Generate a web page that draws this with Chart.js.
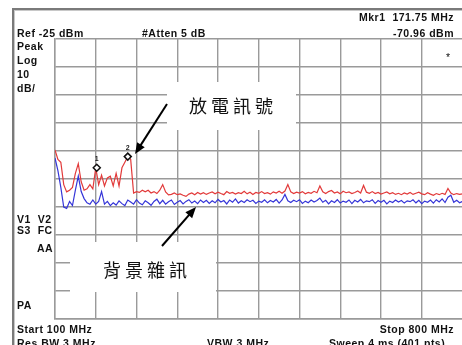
<!DOCTYPE html>
<html>
<head>
<meta charset="utf-8">
<script src="https://cdn.jsdelivr.net/npm/chart.js@4/dist/chart.umd.min.js"></script>
<style>
    html, body { margin: 0; padding: 0; background: #fff; }
    .wrap { position: relative; width: 462px; height: 345px; overflow: hidden; }
    #spec { position: absolute; left: 0; top: 0; }
    .frame {
        position: absolute; left: 12px; top: 8px; width: 460px; height: 350px;
        border-left: 2px solid #7a7a7a; border-top: 2px solid #7a7a7a;
        box-shadow: inset 1px 1px 0 #c8c8c8;
    }
    .lbl {
        position: absolute; font-family: "Liberation Sans", Arial, sans-serif;
        font-weight: bold; font-size: 10.5px; line-height: 10px; color: #111;
        letter-spacing: 0.5px; white-space: nowrap;
    }
    .r { text-align: right; }
    .cjk {
        position: absolute; font-family: "Noto Sans CJK TC", sans-serif;
        font-size: 18px; line-height: 18px; letter-spacing: 4px; color: #111;
        white-space: nowrap;
    }
</style>
</head>
<body>
<div class="wrap">
    <div class="frame"></div>
    <canvas id="spec" width="468" height="345"></canvas>

    <div class="lbl" style="left:17px;top:28px">Ref -25 dBm</div>
    <div class="lbl" style="left:142px;top:28px">#Atten 5 dB</div>
    <div class="lbl r" style="right:8px;top:12px">Mkr1&nbsp; 171.75 MHz</div>
    <div class="lbl r" style="right:8px;top:28px">-70.96 dBm</div>
    <div class="lbl" style="left:17px;top:41px">Peak</div>
    <div class="lbl" style="left:17px;top:55px">Log</div>
    <div class="lbl" style="left:17px;top:69px">10</div>
    <div class="lbl" style="left:17px;top:83px">dB/</div>
    <div class="lbl" style="left:446px;top:52px;font-weight:normal">*</div>
    <div class="lbl" style="left:17px;top:214px">V1&nbsp; V2</div>
    <div class="lbl" style="left:17px;top:225px">S3&nbsp; FC</div>
    <div class="lbl" style="left:37px;top:243px">AA</div>
    <div class="lbl" style="left:17px;top:300px">PA</div>
    <div class="lbl" style="left:17px;top:324px">Start 100 MHz</div>
    <div class="lbl r" style="right:8px;top:324px">Stop 800 MHz</div>
    <div class="lbl" style="left:17px;top:338px">Res BW 3 MHz</div>
    <div class="lbl" style="left:207px;top:338px">VBW 3 MHz</div>
    <div class="lbl" style="left:329px;top:338px">Sweep 4 ms (401 pts)</div>

    <div class="cjk" style="left:189px;top:96px">放電訊號</div>
    <div class="cjk" style="left:103px;top:260px">背景雜訊</div>
</div>

<script>
    // sweep settings
    const startMHz = 100;
    const stopMHz = 800;
    const stepMHz = 5;
    const refLevel = -25;
    const bottomLevel = -125;

    // trace with partial discharge (red), dBm every 5 MHz from 100 MHz
    const discharge = [
        -64.6, -68, -69, -77, -79.6, -79, -78, -73, -69.5, -76,
        -79, -78.5, -77, -78.5, -71, -77, -73.6, -77.5, -74.6, -74,
        -77.5, -73, -77.5, -71, -69, -67, -68, -80, -79.5, -79.8,
        -79, -79.6, -79, -80, -79.5, -80.2, -79, -77, -79.6, -80.7,
        -80.5, -80, -80.6, -80.3, -80.8, -81.2, -80.4, -80, -80.6, -79.8,
        -80.4, -79.9, -80.5, -80, -79.6, -80.3, -79.7, -80.2, -80.6, -79.5,
        -80.1, -79.8, -80.4, -79.9, -80.2, -79.4, -80.3, -79.7, -80.5, -79.8,
        -80.1, -79.5, -80.2, -79.9, -80.4, -79.6, -80, -79.4, -80.1, -79.3,
        -77, -79.6, -80.2, -79.7, -80, -79.5, -80.3, -79.8, -80.1, -79.4,
        -79.9, -77.5, -79.6, -80.2, -79.5, -79.1, -80, -79.6, -80.3, -79.4,
        -79.9, -79.6, -80.2, -79.8, -79.3, -80, -77.3, -79.7, -80.1, -79.5,
        -80.2, -79.8, -80.4, -80, -79.6, -80.3, -79.9, -80.5, -80.1, -80.6,
        -80, -80.4, -79.8, -80.5, -80.1, -79.7, -80.3, -80.6, -79.9, -80.4,
        -80.8, -80.2, -80.6, -80.1, -80.5, -78.4, -80, -80.6, -80.2, -80.5,
        -80.3
    ];

    // background noise trace (blue)
    const background = [
        -67.5, -72, -78, -85, -85.5, -83, -84.5, -79, -74, -79.5,
        -82, -83.5, -84, -82.5, -84, -83, -79.5, -84, -83, -84.5,
        -83.5, -84.3, -82.8, -83.8, -84.5, -82.5, -83.2, -84, -82.4, -83.6,
        -84.2, -82.8, -83.5, -84.4, -83, -82.2, -83.8, -82.6, -84, -83.1,
        -82.5, -84.1, -83.3, -82.7, -83.9, -83, -82.4, -83.6, -82.9, -83.8,
        -82.5, -83.4, -82.6, -83.7, -82.8, -83.5, -82.3, -83.2, -82.7, -83.9,
        -82.5, -83.3, -82.1, -83.6, -82.8, -83.4, -82.4, -83.1, -82.6, -83.7,
        -82.9, -83.3, -82.4, -83.5, -82.7, -83.2, -82.3, -83.6, -82.5, -80.5,
        -82.8, -83.4, -82.6, -83.1, -82.4, -83.7, -82.9, -83.5, -82.5, -83.2,
        -82.7, -81.8, -83.3, -82.6, -83.9, -82.8, -83.4, -82.4, -83.6, -82.9,
        -83.3, -82.5, -83.8, -82.6, -83.2, -82.3, -83.5, -82.8, -83.1, -82.4,
        -83.7, -82.7, -83.3, -82.6, -83.9, -82.9, -83.4, -82.5, -83.2, -82.7,
        -83.6, -82.8, -83.1, -82.4, -83.5, -82.6, -83.8, -82.9, -83.3, -82.5,
        -83.6, -82.4, -83.2, -82.1, -83.4, -81.5, -80.8, -83.3, -82.6, -83.5,
        -83
    ];

    // markers: frequency (MHz) and level (dBm)
    const markerNames = ['1', '2'];
    const markerFreq = [171.75, 225];
    const markerLevel = [-70.96, -67];

    const toPoints = arr => arr.map((v, i) => ({ x: startMHz + i * stepMHz, y: v }));

    const gridColor = '#9a9a9a';

    // white note boxes with arrows, drawn on top of the grid
    const notes = {
        id: 'notes',
        afterDraw(chart) {
            const ctx = chart.ctx;
            ctx.save();
            ctx.fillStyle = '#fff';
            ctx.fillRect(167, 82, 129, 48);
            ctx.fillRect(70, 242, 146, 50);

            function arrow(x1, y1, x2, y2) {
                const a = Math.atan2(y2 - y1, x2 - x1);
                const len = 11, w = 4.5;
                ctx.strokeStyle = '#000';
                ctx.fillStyle = '#000';
                ctx.lineWidth = 2;
                ctx.beginPath();
                ctx.moveTo(x1, y1);
                ctx.lineTo(x2 - Math.cos(a) * len * 0.8, y2 - Math.sin(a) * len * 0.8);
                ctx.stroke();
                ctx.beginPath();
                ctx.moveTo(x2, y2);
                ctx.lineTo(x2 - Math.cos(a) * len - Math.sin(a) * w, y2 - Math.sin(a) * len + Math.cos(a) * w);
                ctx.lineTo(x2 - Math.cos(a) * len + Math.sin(a) * w, y2 - Math.sin(a) * len - Math.cos(a) * w);
                ctx.closePath();
                ctx.fill();
            }
            arrow(167, 104, 135, 154);
            arrow(162, 246, 196, 207);

            // marker numbers
            const xs = chart.scales.x, ys = chart.scales.y;
            ctx.fillStyle = '#222';
            ctx.font = 'bold 7px "Liberation Sans", Arial, sans-serif';
            ctx.textAlign = 'center';
            markerNames.forEach((n, i) => {
                ctx.fillText(n, xs.getPixelForValue(markerFreq[i]), ys.getPixelForValue(markerLevel[i]) - 7);
            });
            ctx.restore();
        }
    };

    new Chart(document.getElementById('spec'), {
        type: 'line',
        data: {
            datasets: [{
                label: 'markers',
                data: markerFreq.map((f, i) => ({ x: f, y: markerLevel[i] })),
                showLine: false,
                pointStyle: 'rectRot',
                pointRadius: 3.5,
                pointBackgroundColor: '#fff',
                pointBorderColor: '#111',
                pointBorderWidth: 1.5
            }, {
                label: '放電訊號',
                data: toPoints(discharge),
                borderColor: '#e23a3a',
                borderWidth: 1.2,
                pointRadius: 0,
                tension: 0
            }, {
                label: '背景雜訊',
                data: toPoints(background),
                borderColor: '#3535d8',
                borderWidth: 1.2,
                pointRadius: 0,
                tension: 0
            }]
        },
        options: {
            responsive: false,
            animation: false,
            layout: { padding: { left: 55, right: 0, top: 39, bottom: 26 } },
            plugins: { legend: { display: false }, tooltip: { enabled: false } },
            scales: {
                x: {
                    type: 'linear', min: startMHz, max: stopMHz,
                    ticks: { display: false, stepSize: 70 },
                    grid: { color: gridColor, lineWidth: 1.4, drawTicks: false },
                    border: { color: gridColor, width: 1.4 }
                },
                y: {
                    min: bottomLevel, max: refLevel,
                    ticks: { display: false, stepSize: 10 },
                    grid: { color: gridColor, lineWidth: 1.4, drawTicks: false },
                    border: { color: gridColor, width: 1.4 }
                }
            }
        },
        plugins: [notes]
    });
</script>
</body>
</html>
